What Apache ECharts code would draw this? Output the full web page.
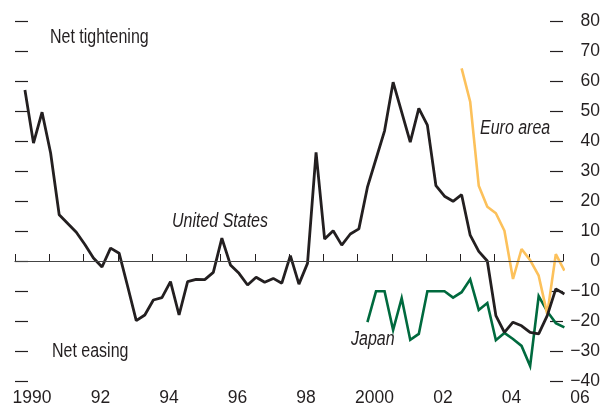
<!DOCTYPE html>
<html>
<head>
<meta charset="utf-8">
<script src="https://cdn.jsdelivr.net/npm/echarts@6/dist/echarts.min.js"></script>
<style>
html,body{margin:0;padding:0;background:#fff;}
#chart{width:610px;height:407px;}
</style>
</head>
<body>
<div id="chart"></div>
<script>
// Quarterly survey data, first quarter of each series given separately
const usStart = [1990, 2];   // 1990 Q2
const usValues = [57,39.3,49.6,36,15.4,12.5,9.6,5.5,1,-2,
  4.3,2.6,-8.5,-19.9,-18,-13,-12.2,-6.9,-18,-6.9,
  -6.1,-6.2,-3.8,7.6,-1.3,-4.1,-8,-5.4,-7.1,-5.8,
  -7.4,1.8,-7.7,-0.8,36.2,7.3,10.1,5.3,9,10.7,
  24.6,34,43.4,59.6,49.6,39.6,50.9,45.3,25.1,21.6,
  19.9,22.1,8.6,3.2,0,-18.2,-23.8,-20.4,-21.6,-23.8,
  -24.3,-18.2,-9.3,-11];
const euroStart = [2003, 1]; // 2003 Q1
const euroValues = [64.2,53.1,25.1,18.1,15.9,10.1,-6,4,0.3,-4.9,-17.7,2.3,-3.2];
const japanStart = [2000, 2]; // 2000 Q2
const japanValues = [-20.4,-10.1,-10.1,-23,-12.4,-26.3,-24.3,-10.1,-10.1,-10.1,
  -12.2,-10.4,-6.1,-16.3,-14,-26.4,-24,-26,-28.3,-35,
  -11.7,-16.8,-20.7,-22.1];
const yTicks = [-40,-30,-20,-10,0,10,20,30,40,50,60,70,80];
const xYears = [1990,1991,1992,1993,1994,1995,1996,1997,1998,1999,2000,2001,2002,2003,2004,2005,2006];

const FONT = "'Liberation Sans',Arial,sans-serif";
const INK = '#231f20';
const AXFS = 17.5;

function toPoints(start, vals) {
  return vals.map((v, i) => {
    const qIndex = (start[1] - 1) + i;
    const t = start[0] + qIndex / 4 + 0.04;
    return [t, v];
  });
}

function note(text, x, y, italic) {
  return {type: 'text', x: x, y: y, scaleX: 0.82, scaleY: 1,
    style: {text: text, fontFamily: FONT, fontSize: 19.5, fontStyle: italic ? 'italic' : 'normal',
      fill: INK, textVerticalAlign: 'middle'}};
}

const chart = echarts.init(document.getElementById('chart'), null, {renderer: 'canvas'});
const option = {
  animation: false,
  backgroundColor: '#fff',
  grid: {left: 15, right: 47, top: 21, bottom: 25, containLabel: false},
  xAxis: {
    type: 'value',
    min: xYears[0], max: xYears[xYears.length - 1], interval: 1,
    axisLine: {show: true, lineStyle: {color: INK, width: 1}},
    axisTick: {show: true, inside: true, length: 7, lineStyle: {color: INK, width: 1}},
    splitLine: {show: false},
    axisLabel: {
      show: true, showMinLabel: true, showMaxLabel: true,
      margin: 8, color: INK, fontFamily: FONT, fontSize: AXFS,
      padding: [0, 0, 0, 34],
      formatter: v => {
        if (v % 2 !== 0) return '';
        if (v === 1990 || v === 2000) return String(v);
        return String(v).slice(2);
      }
    }
  },
  yAxis: [{
    type: 'value', position: 'left',
    min: yTicks[0], max: yTicks[yTicks.length - 1], interval: 10,
    axisLine: {show: false},
    axisTick: {show: true, inside: true, length: 13, lineStyle: {color: INK, width: 1.2}},
    axisLabel: {show: false},
    splitLine: {show: false}
  }, {
    type: 'value', position: 'right',
    min: yTicks[0], max: yTicks[yTicks.length - 1], interval: 10,
    axisLine: {show: false},
    axisTick: {show: true, inside: true, length: 13, lineStyle: {color: INK, width: 1.2}},
    axisLabel: {show: true, inside: false, margin: 37, align: 'right', color: INK,
      fontFamily: FONT, fontSize: AXFS,
      formatter: v => (v < 0 ? '\u2212' + Math.abs(v) : String(v))},
    splitLine: {show: false}
  }],
  series: [{
    name: 'Japan', type: 'line', yAxisIndex: 0,
    data: toPoints(japanStart, japanValues),
    showSymbol: false, symbol: 'none',
    lineStyle: {color: '#006a3e', width: 2.6, join: 'miter'},
    markLine: {
      silent: true, symbol: 'none', label: {show: false},
      lineStyle: {color: '#444', width: 1, type: 'solid'},
      data: [{yAxis: 0}]
    }
  }, {
    name: 'Euro area', type: 'line', yAxisIndex: 0,
    data: toPoints(euroStart, euroValues),
    showSymbol: false, symbol: 'none',
    lineStyle: {color: '#fcc15b', width: 2.6}
  }, {
    name: 'United States', type: 'line', yAxisIndex: 0,
    data: toPoints(usStart, usValues),
    showSymbol: false, symbol: 'none',
    lineStyle: {color: INK, width: 2.8}
  }],
  graphic: [
    note('Net tightening', 50, 38, false),
    note('Net easing', 52, 352, false),
    note('United States', 172, 222, true),
    note('Euro area', 480, 129, true),
    note('Japan', 351, 340, true)
  ]
};
chart.setOption(option);
</script>
</body>
</html>
